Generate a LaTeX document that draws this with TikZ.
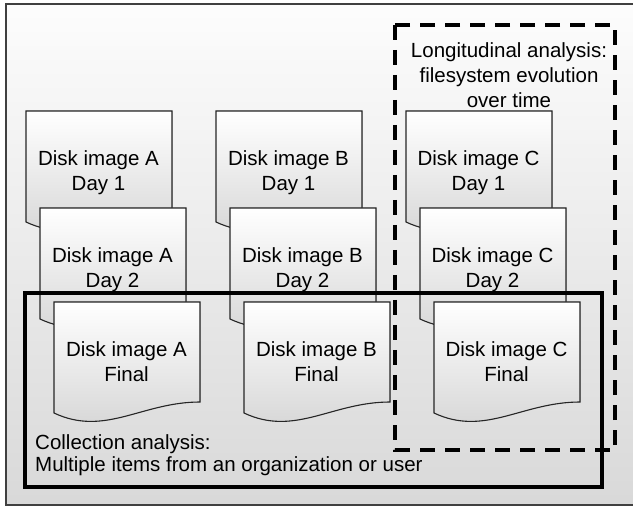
\documentclass[tikz,border=0pt]{standalone}
\usepackage{fontspec}
\setmainfont{Liberation Sans}
\begin{document}
\begin{tikzpicture}[x=1pt,y=-1pt,
    diskdoc/.style={draw=black!85,line width=1.1pt,top color=white,bottom color=black!17},
    disklabel/.style={align=center,inner sep=0pt,anchor=north,font=\fontsize{20.5}{25}\selectfont},
    groupbox/.style={line width=3.6pt}]
  \useasboundingbox (0,0) rectangle (633,508);
  % background panel
  \draw[black!75,line width=1.2pt,top color=black!1,bottom color=black!15] (6,4) rectangle (645,505);
  % day 1 and day 2 images, one column per disk
  \foreach \day/\dx/\dy in {1/0/111,2/14/208}{
    \foreach \img/\cx in {A/26,B/216,C/406}{
      \pgfmathsetmacro\x{\cx+\dx}
      \filldraw[diskdoc] (\x,\dy) -- ({\x+146},\dy) -- ({\x+146},{\dy+100})
        .. controls ({\x+88},{\dy+100}) and ({\x+51},{\dy+135}) .. (\x,{\dy+111}) -- cycle;
      \node[disklabel] (disk\img\day) at ({\x+72.5},{\dy+39.5}) {Disk image \img\\Day \day};
    }
  }
  % collection analysis
  \draw[groupbox] (25,293) rectangle (602,487);
  \foreach \img/\cx in {A/26,B/216,C/406}{
    \pgfmathsetmacro\x{\cx+28}
    \filldraw[diskdoc] (\x,302) -- ({\x+146},302) -- ({\x+146},402)
      .. controls ({\x+88},402) and ({\x+51},437) .. (\x,413) -- cycle;
    \node[disklabel] (disk\img final) at ({\x+72.5},341.5) {Disk image \img\\Final};
  }
  \node[anchor=north west,align=left,inner sep=0pt,font=\fontsize{20.5}{22}\selectfont] (collectlabel)
    at (35,434.5) {Collection analysis:\\Multiple items from an organization or user};
  % longitudinal analysis
  \draw[groupbox,dash pattern=on 15pt off 10pt] (395,25) rectangle (615,450);
  \node[disklabel] (longlabel) at (509,42.3) {Longitudinal analysis:\\filesystem evolution\\over time};
\end{tikzpicture}
\end{document}
